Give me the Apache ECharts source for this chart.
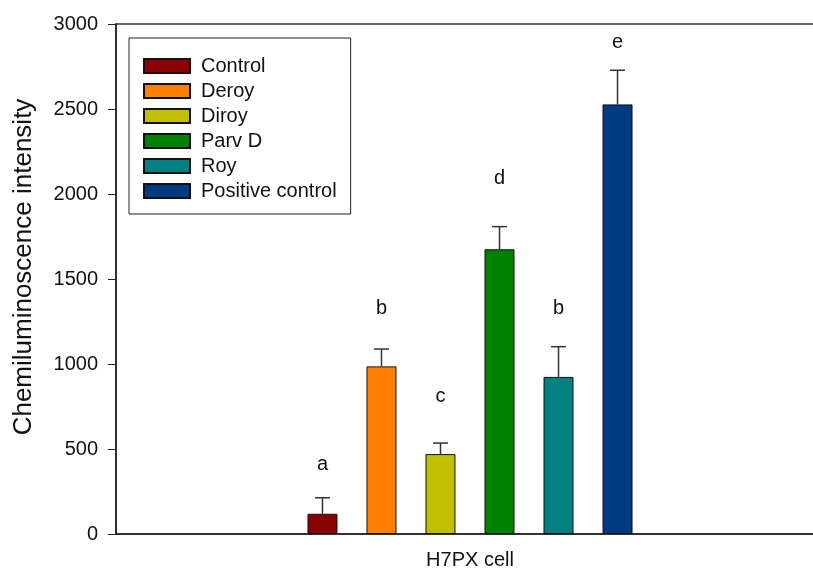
<!DOCTYPE html>
<html>
<head>
<meta charset="utf-8">
<script src="https://cdn.jsdelivr.net/npm/echarts@6/dist/echarts.min.js"></script>
<style>
  html, body { margin: 0; padding: 0; background: #fff; }
  #main { width: 813px; height: 570px; }
</style>
</head>
<body>
<div id="main"></div>
<script>
// data
const categories = ['H7PX cell'];
const groups = ['Control', 'Deroy', 'Diroy', 'Parv D', 'Roy', 'Positive control'];
const means = [119, 986, 470, 1675, 924, 2527];
const errors = [94, 102, 65, 133, 178, 201];
const letters = ['a', 'b', 'c', 'd', 'b', 'e'];
const letterAt = [406, 1329, 806, 2094, 1329, 2894]; // where the letters sit, in axis units
const colors = ['#8B0000', '#FF8000', '#C0C000', '#008000', '#008080', '#003A80'];

const FONT = 'Arial, "Liberation Sans", sans-serif';
const BAR_W = 30;
const BAR_GAP = '96.7%';

const chart = echarts.init(document.getElementById('main'));

// one bar series per group
const barSeries = groups.map((g, i) => ({
  name: g,
  type: 'bar',
  data: [means[i]],
  barWidth: BAR_W,
  barGap: BAR_GAP,
  itemStyle: { color: colors[i], borderColor: '#111', borderWidth: 1 },
  emphasis: { disabled: true }
}));

// error bars + significance letters
const errData = groups.map((g, i) => [0, means[i], means[i] + errors[i], i]);

const errSeries = {
  type: 'custom',
  name: 'err',
  data: errData,
  encode: { x: 0, y: [1, 2] },
  clip: false,
  z: 5,
  renderItem(params, api) {
    const idx = api.value(3);
    const layout = api.barLayout({ barWidth: BAR_W, barGap: BAR_GAP, count: groups.length });
    const off = layout[idx].offsetCenter;
    const base = api.coord([api.value(0), api.value(1)]);
    const top = api.coord([api.value(0), api.value(2)]);
    const lab = api.coord([api.value(0), letterAt[idx]]);
    const x = base[0] + off;
    const cap = 7.5;
    const lineStyle = { stroke: '#333', lineWidth: 1.5 };
    return {
      type: 'group',
      children: [
        { type: 'line', shape: { x1: x, y1: base[1], x2: x, y2: top[1] }, style: lineStyle },
        { type: 'line', shape: { x1: x - cap, y1: top[1], x2: x + cap, y2: top[1] }, style: lineStyle },
        {
          type: 'text',
          style: {
            text: letters[idx], x: x, y: lab[1],
            align: 'center', verticalAlign: 'middle',
            fontSize: 20, fontFamily: FONT, fill: '#111'
          }
        }
      ]
    };
  }
};

const option = {
  animation: false,
  grid: {
    left: 116, top: 24, bottom: 36, right: -11,
    outerBoundsMode: 'none',
    containLabel: false,
    show: true, borderColor: '#333', borderWidth: 1.5, backgroundColor: 'transparent'
  },
  legend: {
    data: groups,
    orient: 'vertical',
    left: 129, top: 38,
    padding: [18, 14, 13, 14],
    itemWidth: 46, itemHeight: 14, itemGap: 5,
    icon: 'rect',
    borderColor: '#222', borderWidth: 1,
    textStyle: { fontSize: 20, fontFamily: FONT, color: '#111', padding: [0, 0, 0, 6] }
  },
  xAxis: {
    type: 'category',
    data: categories,
    axisLine: { lineStyle: { color: '#222', width: 1.5 } },
    axisTick: { alignWithLabel: true, length: 6, lineStyle: { color: '#222' } },
    axisLabel: { fontSize: 20, fontFamily: FONT, color: '#111', margin: 16 }
  },
  yAxis: {
    type: 'value',
    min: 0, max: 3000, interval: 500,
    name: 'Chemiluminoscence intensity',
    nameLocation: 'middle',
    nameGap: 79,
    nameTextStyle: { fontSize: 26, fontFamily: FONT, color: '#111', padding: [0, 0, 0, 24] },
    axisLine: { show: true, lineStyle: { color: '#222', width: 1.5 } },
    axisTick: { show: true, inside: false, length: 8, lineStyle: { color: '#222' } },
    axisLabel: {
      fontSize: 20, fontFamily: FONT, color: '#111', margin: 18,
      formatter: v => String(v)
    },
    splitLine: { show: false }
  },
  series: [...barSeries, errSeries]
};

chart.setOption(option);
</script>
</body>
</html>
